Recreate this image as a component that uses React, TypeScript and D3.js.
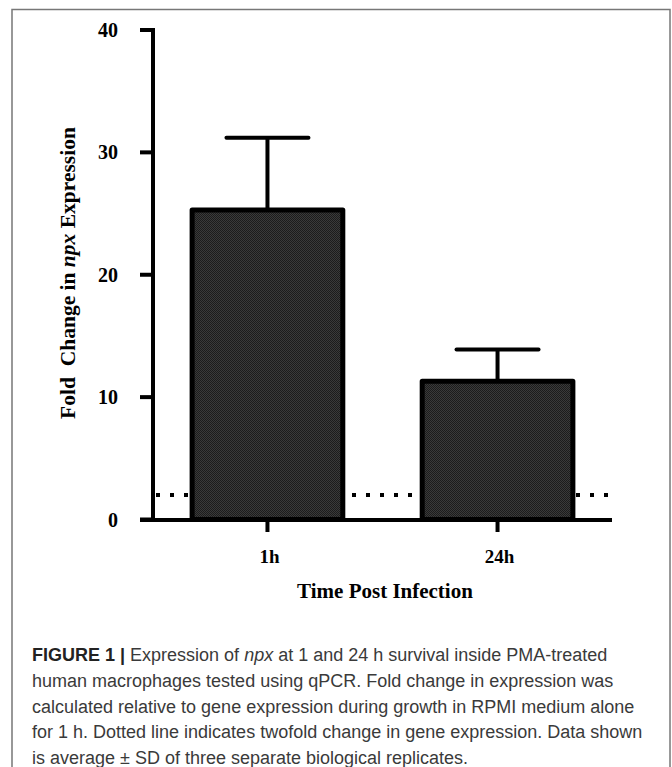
import React from 'react'
import * as d3 from 'd3'

const categories = ['1h', '24h']
const means = [25.3, 11.3]
const sds = [5.9, 2.6]
const yTicks = [0, 10, 20, 30, 40]
const threshold = 2

const captionLines = [
  'human macrophages tested using qPCR. Fold change in expression was',
  'calculated relative to gene expression during growth in RPMI medium alone',
  'for 1 h. Dotted line indicates twofold change in gene expression. Data shown',
  'is average \u00b1 SD of three separate biological replicates.',
]

const W = 672
const H = 767
const serif = '"Liberation Serif", "Times New Roman", serif'
const sans = '"Liberation Sans", Arial, sans-serif'

export default function App() {
  const x = d3.scaleBand().domain(categories).range([153, 612]).paddingInner(0.345).paddingOuter(0.17)
  const y = d3.scaleLinear().domain([0, 40]).range([519.5, 30])
  const axisX = 153
  const axisY = 520
  const capHalf = 41

  return (
    <svg width={W} height={H} style={{ position: 'absolute', left: 0, top: 0, background: '#fff' }}>
      <defs>
        <pattern id="checker" width="2" height="2" patternUnits="userSpaceOnUse">
          <rect width="2" height="2" fill="#3a3a3a" />
          <rect width="1" height="1" fill="#1c1c1c" />
          <rect x="1" y="1" width="1" height="1" fill="#1c1c1c" />
        </pattern>
      </defs>

      {/* frame */}
      <rect x={12} y={9.5} width={658} height={H + 20} fill="none" stroke="#777" strokeWidth={1.5} />

      {/* dotted 2-fold line */}
      <line x1={axisX + 3} x2={612} y1={y(threshold)} y2={y(threshold)}
        stroke="#000" strokeWidth={4} strokeDasharray="4 10" />

      {/* error bars (upper only) */}
      {categories.map((c, i) => {
        const cx = x(c)! + x.bandwidth() / 2
        return (
          <g key={'e' + c} stroke="#000" strokeWidth={4} strokeLinecap="round">
            <line x1={cx} x2={cx} y1={y(means[i])} y2={y(means[i] + sds[i])} strokeLinecap="butt" />
            <line x1={cx - capHalf} x2={cx + capHalf} y1={y(means[i] + sds[i])} y2={y(means[i] + sds[i])} />
          </g>
        )
      })}

      {/* bars */}
      {categories.map((c, i) => (
        <rect key={c} x={x(c)} y={y(means[i])} width={x.bandwidth()} height={y(0) - y(means[i])}
          fill="url(#checker)" stroke="#000" strokeWidth={5} strokeLinejoin="round" />
      ))}

      {/* y axis */}
      <line x1={axisX} x2={axisX} y1={y(40) - 2} y2={axisY} stroke="#000" strokeWidth={4} />
      {yTicks.map(t => (
        <g key={t}>
          <line x1={140} x2={axisX} y1={y(t)} y2={y(t)} stroke="#000" strokeWidth={4} />
          <text x={118} y={y(t)} dy="0.35em" textAnchor="end" fontFamily={serif} fontWeight="bold" fontSize={20}>{t}</text>
        </g>
      ))}

      {/* x axis */}
      <line x1={140} x2={612} y1={axisY} y2={axisY} stroke="#000" strokeWidth={4} />
      {categories.map(c => {
        const cx = x(c)! + x.bandwidth() / 2
        return (
          <g key={'t' + c}>
            <line x1={cx} x2={cx} y1={axisY} y2={532} stroke="#000" strokeWidth={4} />
            <text x={cx + 2} y={563} textAnchor="middle" fontFamily={serif} fontWeight="bold" fontSize={19}>{c}</text>
          </g>
        )
      })}

      {/* axis titles */}
      <text x={385} y={598} textAnchor="middle" fontFamily={serif} fontWeight="bold" fontSize={21}>Time Post Infection</text>
      <text transform="translate(75,273) rotate(-90)" textAnchor="middle" fontFamily={serif} fontWeight="bold"
        fontSize={21.5} style={{ whiteSpace: 'pre' }}>
        {'Fold  Change in '}<tspan fontStyle="italic">npx</tspan>{' Expression'}
      </text>

      {/* caption */}
      <g fontFamily={sans} fontSize={18} fill="#3a3a3a">
        <text x={32} y={661}>
          <tspan fontWeight="bold" fill="#222">FIGURE 1 | </tspan>
          {'Expression of '}<tspan fontStyle="italic">npx</tspan>{' at 1 and 24 h survival inside PMA-treated'}
        </text>
        {captionLines.map((l, i) => (
          <text key={i} x={32} y={687 + i * 25.5}>{l}</text>
        ))}
      </g>
    </svg>
  )
}
